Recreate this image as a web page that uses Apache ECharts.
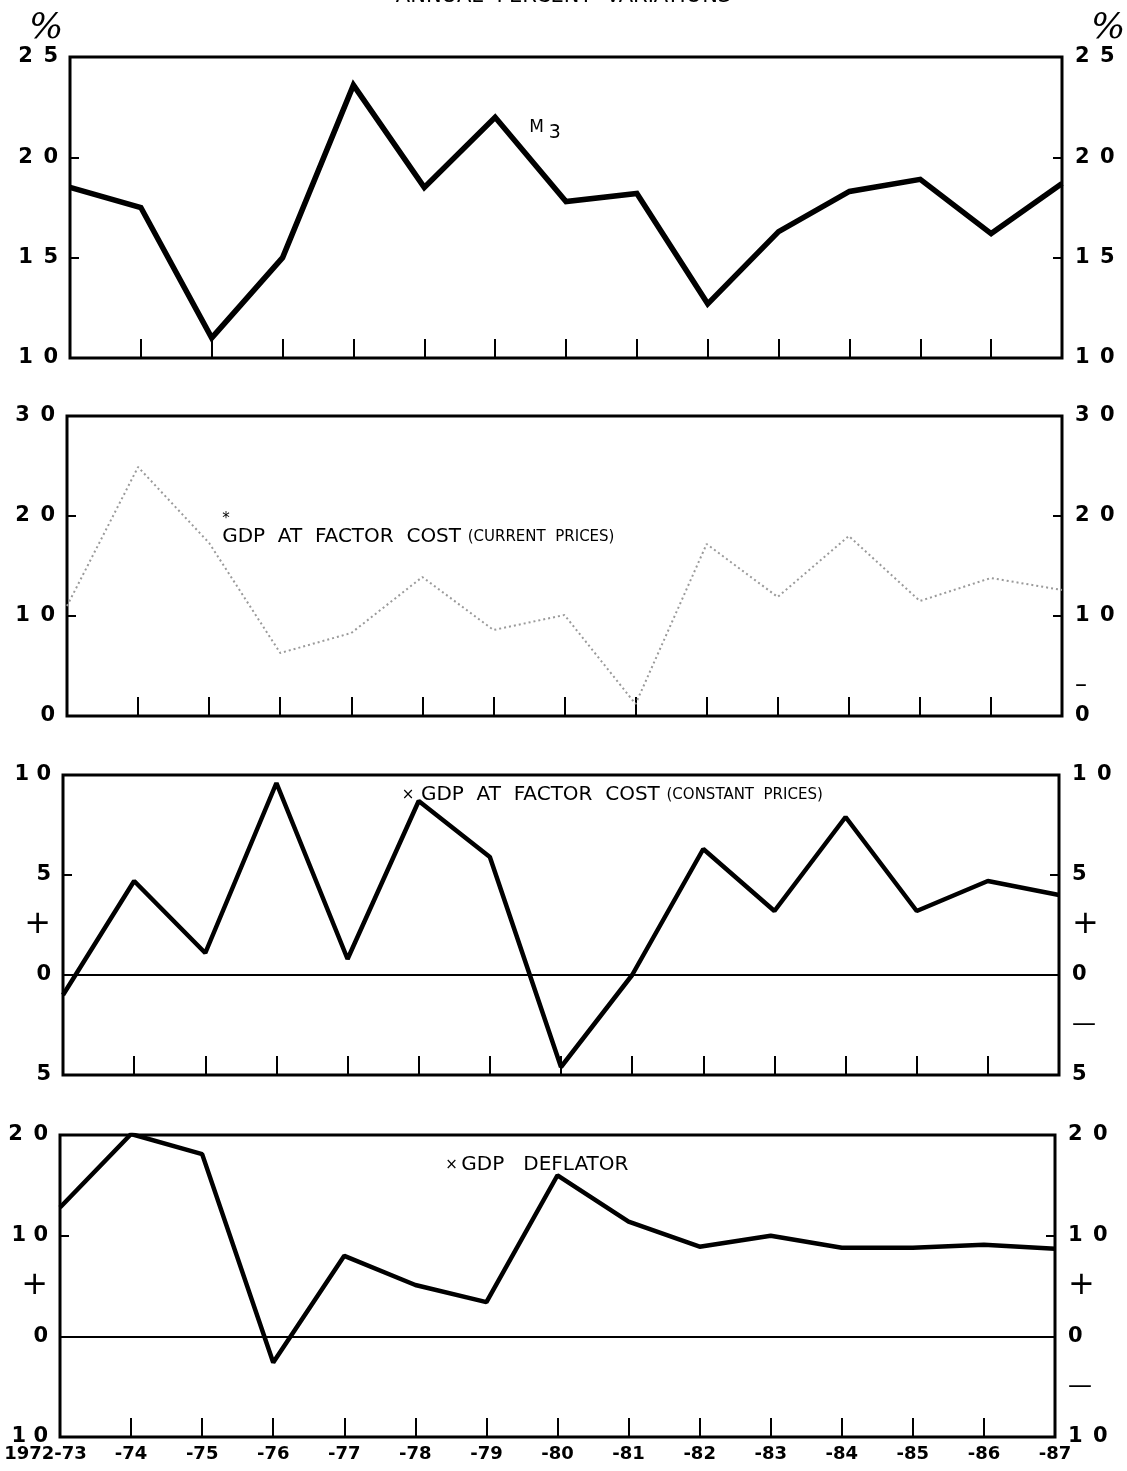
<!DOCTYPE html>
<html>
<head>
<meta charset="utf-8">
<script src="https://cdn.jsdelivr.net/npm/echarts@6/dist/echarts.min.js"></script>
<style>
html,body{margin:0;padding:0;background:#fff;}
#chart{width:1127px;height:1471px;}
</style>
</head>
<body>
<div id="chart"></div>
<script>
// ---------- data ----------
const categories = ['1972-73','-74','-75','-76','-77','-78','-79','-80','-81','-82','-83','-84','-85','-86','-87'];
const m3          = [18.5, 17.5, 11.0, 15.0, 23.6, 18.5, 22.0, 17.8, 18.2, 12.7, 16.3, 18.3, 18.9, 16.2, 18.7];
const gdpCurrent  = [11.0, 24.9, 17.3, 6.3, 8.3, 13.9, 8.6, 10.1, 1.2, 17.2, 11.9, 18.0, 11.5, 13.8, 12.6];
const gdpConstant = [-1.0, 4.7, 1.1, 9.6, 0.8, 8.7, 5.9, -4.6, 0.0, 6.3, 3.2, 7.9, 3.2, 4.7, 4.0];
const gdpDeflator = [12.8, 20.1, 18.1, -2.6, 8.0, 5.1, 3.4, 16.0, 11.4, 8.9, 10.0, 8.8, 8.8, 9.1, 8.7];

// tick labels (value -> text)
const p1LeftVals  = [25, 20, 15, 10];           const p1LeftText  = ['2\u20025','2\u20020','1\u20025','1\u20020'];
const p1RightVals = [25, 20, 15, 10];           const p1RightText = ['2\u20025','2\u20020','1\u20025','1\u20020'];
const p2LeftVals  = [30, 20, 10, 0];            const p2LeftText  = ['3\u20020','2\u20020','1\u20020','0'];
const p2RightVals = [30, 20, 10, 3, 0];         const p2RightText = ['3\u20020','2\u20020','1\u20020','\u2013','0'];
const p3LeftVals  = [10, 5, 2.5, 0, -5];        const p3LeftText  = ['1 0','5','+','0','5'];
const p3RightVals = [10, 5, 2.5, 0, -2.5, -5];  const p3RightText = ['1\u20020','5','+','0','\u2014','5'];
const p4LeftVals  = [20, 10, 5, 0, -10];        const p4LeftText  = ['2\u20020','1 0','+','0','1 0'];
const p4RightVals = [20, 10, 5, 0, -5, -10];    const p4RightText = ['2\u20020','1\u20020','+','0','\u2014','1\u20020'];

const titleText = 'ANNUAL  PERCENT  VARIATIONS';
const unitText = '%';

// ---------- helpers ----------
const FONT = 'DejaVu Sans';

function wrapSign(t) {
  if (t === '+') return '{p|+}';
  if (t === '\u2014' || t === '\u2013') return '{d|' + t + '}';
  return t;
}

function yAxisDef(gi, pos, vals, texts, tickVals, min, max, extra) {
  const map = {};
  vals.forEach((v, k) => { map[String(v)] = wrapSign(texts[k]); });
  return Object.assign({
    type: 'value', gridIndex: gi, position: pos, min: min, max: max,
    axisLine: {show: false},
    splitLine: {show: false},
    axisTick: {show: true, inside: true, length: 9, customValues: tickVals,
               lineStyle: {color: '#000', width: 2}},
    axisLabel: {customValues: vals, formatter: v => (map[String(v)] !== undefined ? map[String(v)] : ''),
                margin: pos === 'left' ? 12 : 13, color: '#000', fontFamily: FONT, fontWeight: 'bold', fontSize: 21,
                rich: {
                  p: {fontFamily: FONT, fontWeight: 'normal', fontSize: 32, color: '#000'},
                  d: {fontFamily: FONT, fontWeight: 'normal', fontSize: 24, color: '#000'}
                }}
  }, extra || {});
}

function xAxisDef(gi, showLabels) {
  return {
    type: 'category', gridIndex: gi, data: categories, boundaryGap: false,
    axisLine: {show: false, onZero: false},
    splitLine: {show: false},
    axisTick: {show: true, inside: true, length: 19, lineStyle: {color: '#000', width: 2}},
    axisLabel: {
      show: showLabels, margin: 8, color: '#000', fontFamily: FONT, fontWeight: 'bold', fontSize: 18,
      interval: 0,
      formatter: (v, i) => i === 0 ? '{f|' + v + '}' : v,
      rich: {f: {padding: [0, 29, 0, 0], color: '#000', fontFamily: FONT, fontWeight: 'bold', fontSize: 18}}
    }
  };
}

const gridBase = {show: true, borderColor: '#000', borderWidth: 3, backgroundColor: 'transparent', containLabel: false, outerBoundsMode: 'none'};
const grids = [
  Object.assign({}, gridBase, {left: 70, right: 1127 - 1062, top: 57,   height: 301}),
  Object.assign({}, gridBase, {left: 67, right: 1127 - 1062, top: 416,  height: 300}),
  Object.assign({}, gridBase, {left: 63, right: 1127 - 1059, top: 775,  height: 300}),
  Object.assign({}, gridBase, {left: 60, right: 1127 - 1055, top: 1135, height: 302})
];

const zeroLine = {
  silent: true, symbol: 'none', label: {show: false},
  lineStyle: {color: '#000', width: 2, type: 'solid'},
  data: [{yAxis: 0}]
};

function note(coord, offset, formatter, rich) {
  return {
    coord: coord, symbol: 'circle', symbolSize: 0,
    itemStyle: {color: 'transparent'},
    label: {show: true, position: 'inside', align: 'left', verticalAlign: 'middle',
            offset: offset, formatter: formatter, rich: rich, color: '#000'}
  };
}

const labelRich = {
  a: {fontFamily: FONT, fontSize: 20, color: '#000'},
  b: {fontFamily: FONT, fontSize: 15, color: '#000'},
  x: {fontFamily: FONT, fontSize: 15, color: '#000'},
  m: {fontFamily: FONT, fontSize: 17, color: '#000'},
  s: {fontFamily: FONT, fontSize: 19, color: '#000', padding: [12, 0, 0, 5]}
};

const chart = echarts.init(document.getElementById('chart'), null, {renderer: 'canvas'});

const option = {
  backgroundColor: '#fff',
  animation: false,
  title: {
    text: titleText, left: 'center', top: -19,
    textStyle: {fontFamily: FONT, fontSize: 21, fontWeight: 'normal', color: '#000'}
  },
  grid: grids,
  xAxis: [xAxisDef(0, false), xAxisDef(1, false), xAxisDef(2, false), xAxisDef(3, true)],
  yAxis: [
    yAxisDef(0, 'left',  p1LeftVals,  p1LeftText,  [20, 15], 10, 25,
      {name: unitText, nameLocation: 'end', nameGap: 5,
       nameTextStyle: {fontFamily: 'DejaVu Serif', fontStyle: 'italic', fontSize: 36, color: '#000', padding: [0, 48, 0, 0]}}),
    yAxisDef(0, 'right', p1RightVals, p1RightText, [20, 15], 10, 25,
      {name: unitText, nameLocation: 'end', nameGap: 5,
       nameTextStyle: {fontFamily: 'DejaVu Serif', fontStyle: 'italic', fontSize: 36, color: '#000', padding: [0, 0, 0, 92]}}),
    yAxisDef(1, 'left',  p2LeftVals,  p2LeftText,  [20, 10], 0, 30),
    yAxisDef(1, 'right', p2RightVals, p2RightText, [20, 10], 0, 30),
    yAxisDef(2, 'left',  p3LeftVals,  p3LeftText,  [5], -5, 10),
    yAxisDef(2, 'right', p3RightVals, p3RightText, [5], -5, 10),
    yAxisDef(3, 'left',  p4LeftVals,  p4LeftText,  [10], -10, 20),
    yAxisDef(3, 'right', p4RightVals, p4RightText, [10], -10, 20)
  ],
  series: [
    {
      name: 'M3', type: 'line', xAxisIndex: 0, yAxisIndex: 0, data: m3,
      showSymbol: false, lineStyle: {color: '#000', width: 5.5, join: 'miter'},
      markPoint: {silent: true, data: [note(['-79', 21.5], [34, 0], '{m|M}{s|3}', labelRich)]}
    },
    {
      name: 'GDP current', type: 'line', xAxisIndex: 1, yAxisIndex: 2, data: gdpCurrent,
      showSymbol: false, lineStyle: {color: '#9a9a9a', width: 2, type: [2, 3]},
      markPoint: {silent: true, data: [
        note(['-75', 17.9], [13, 0], '{a|GDP  AT  FACTOR  COST}  {b|(CURRENT  PRICES)}', labelRich),
        note(['-75', 19.7], [13, 0], '{x|*}', labelRich)
      ]}
    },
    {
      name: 'GDP constant', type: 'line', xAxisIndex: 2, yAxisIndex: 4, data: gdpConstant,
      showSymbol: false, lineStyle: {color: '#000', width: 4.5},
      markLine: zeroLine,
      markPoint: {silent: true, data: [
        note(['-78', 9], [-17, 0], '{x|\u00d7}  {a|GDP  AT  FACTOR  COST}  {b|(CONSTANT  PRICES)}', labelRich)
      ]}
    },
    {
      name: 'GDP deflator', type: 'line', xAxisIndex: 3, yAxisIndex: 6, data: gdpDeflator,
      showSymbol: false, lineStyle: {color: '#000', width: 4.5},
      markLine: zeroLine,
      markPoint: {silent: true, data: [
        note(['-78', 17], [30, 0], '{x|\u00d7} {a|GDP   DEFLATOR}', labelRich)
      ]}
    }
  ]
};

chart.setOption(option);
</script>
</body>
</html>
